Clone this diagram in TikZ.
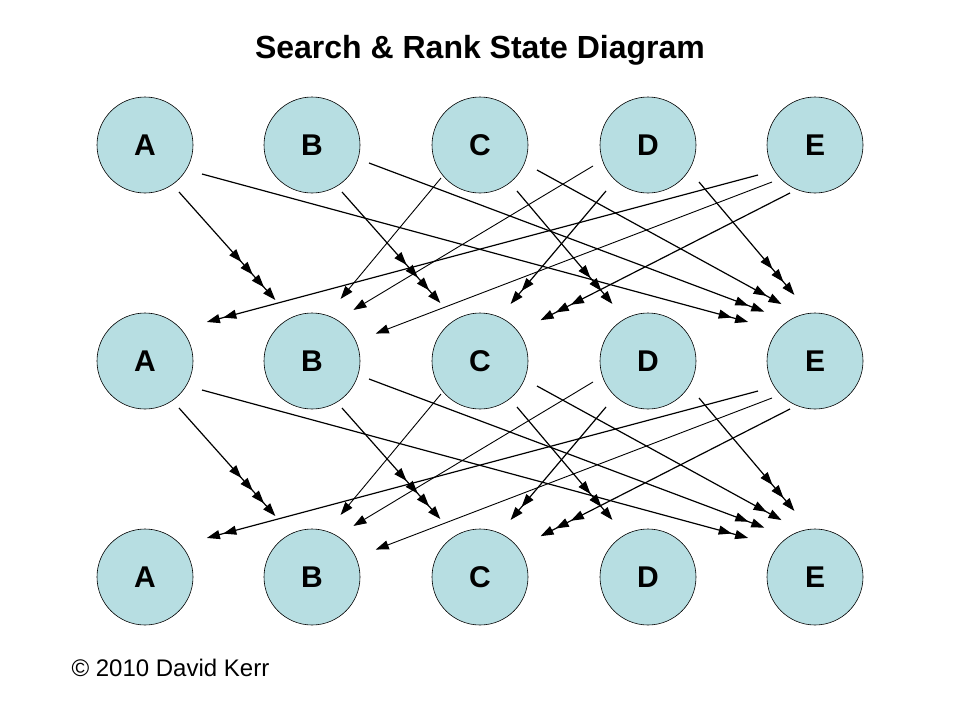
\documentclass[tikz,border=0pt]{standalone}
\usepackage{fontspec}
\setmainfont{Liberation Sans}
\usetikzlibrary{arrows.meta}
\tikzset{
  st/.style={circle,draw=black,line width=0.6pt,fill={rgb,255:red,183;green,222;blue,226},minimum size=96pt,inner sep=0pt,font=\bfseries\fontsize{30}{30}\selectfont},
  ln/.style={line width=1.2pt},
  T/.tip={Triangle[length=13pt,width=9pt,sep=4pt]},
  h1/.style={ln,-{T}},
  h2/.style={ln,-{T T}},
  h3/.style={ln,-{T T T}},
  h4/.style={ln,-{T T T T}},
}
\begin{document}
\begin{tikzpicture}[x=1pt,y=-1pt]
\useasboundingbox (0,0) rectangle (960,720);
\node[font=\bfseries\fontsize{32}{32}\selectfont] (title) at (480,50) {Search \& Rank State Diagram};
\node[anchor=west,font=\fontsize{24}{24}\selectfont] (copy) at (68,668) {\textcopyright{} 2010 David Kerr};
\foreach \r/\y in {1/145,2/361,3/577}{
  \foreach \n/\x in {A/145,B/312,C/480,D/648,E/815}{
    \node[st] (\n\r) at (\x,\y) {\n};
  }
}
\foreach \b/\dy in {1/0,2/216}{
\begin{scope}[yshift=-\dy pt]
  \coordinate (ab1\b) at (179,192); \coordinate (ab2\b) at (278,303);
  \coordinate (ae1\b) at (202,174); \coordinate (ae2\b) at (752,323);
  \coordinate (bc1\b) at (342,192); \coordinate (bc2\b) at (443,306);
  \coordinate (be1\b) at (369,163); \coordinate (be2\b) at (768,313);
  \coordinate (cb1\b) at (441,178); \coordinate (cb2\b) at (338,302);
  \coordinate (cd1\b) at (517,191); \coordinate (cd2\b) at (615,307);
  \coordinate (ce1\b) at (537,170); \coordinate (ce2\b) at (785,306);
  \coordinate (db1\b) at (593,166); \coordinate (db2\b) at (350,312);
  \coordinate (dc1\b) at (606,191); \coordinate (dc2\b) at (508,307);
  \coordinate (de1\b) at (699,182); \coordinate (de2\b) at (797,298);
  \coordinate (ea1\b) at (758,175); \coordinate (ea2\b) at (203,323);
  \coordinate (eb1\b) at (772,182); \coordinate (eb2\b) at (372,335);
  \coordinate (ec1\b) at (790,193); \coordinate (ec2\b) at (537,322);
\end{scope}
  \draw[h4] (ab1\b) -- (ab2\b);
  \draw[h2] (ae1\b) -- (ae2\b);
  \draw[h4] (bc1\b) -- (bc2\b);
  \draw[h2] (be1\b) -- (be2\b);
  \draw[h1,line width=0.9pt] (cb1\b) -- (cb2\b);
  \draw[h3] (cd1\b) -- (cd2\b);
  \draw[h2] (ce1\b) -- (ce2\b);
  \draw[h1,line width=0.9pt] (db1\b) -- (db2\b);
  \draw[h2] (dc1\b) -- (dc2\b);
  \draw[h3] (de1\b) -- (de2\b);
  \draw[h2] (ea1\b) -- (ea2\b);
  \draw[h1,line width=0.9pt] (eb1\b) -- (eb2\b);
  \draw[h3] (ec1\b) -- (ec2\b);
}
\end{tikzpicture}
\end{document}
